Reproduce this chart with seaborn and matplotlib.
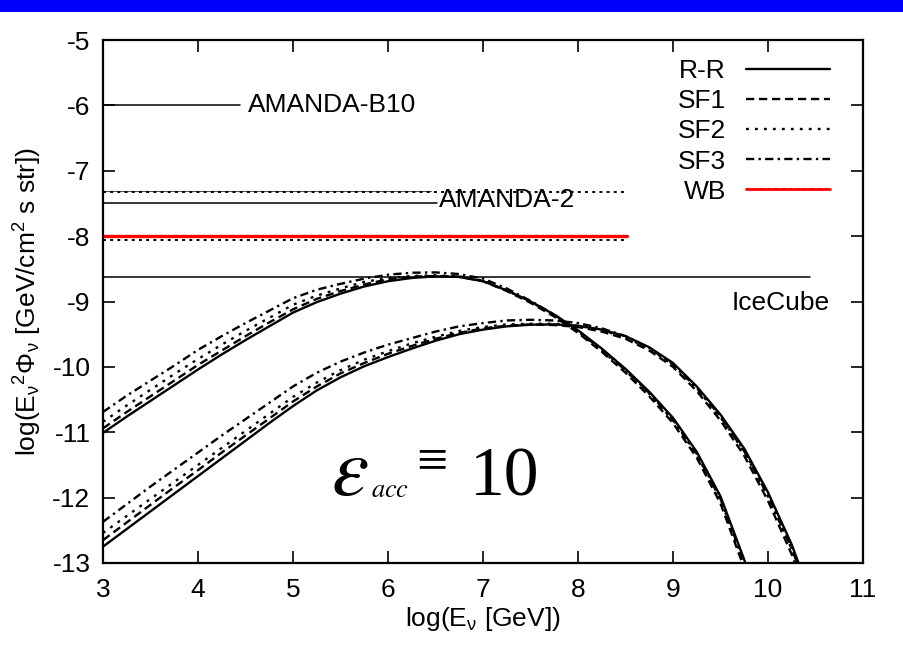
import matplotlib
matplotlib.use("Agg")
import matplotlib.pyplot as plt
import seaborn as sns
import pandas as pd
from matplotlib.lines import Line2D
from matplotlib.patches import Rectangle

# ---------------- data ----------------
x_upper = [3.0, 3.25, 3.5, 3.75, 4.0, 4.25, 4.5, 4.75, 5.0, 5.25, 5.5, 5.75, 6.0, 6.25, 6.5, 6.75,
           7.0, 7.25, 7.5, 7.75, 8.0, 8.25, 8.5, 8.75, 9.0, 9.25, 9.5, 9.75, 9.9]
upper_rr = [-11.01, -10.76, -10.52, -10.28, -10.04, -9.81, -9.59, -9.38, -9.17, -9.01, -8.88, -8.77,
            -8.69, -8.64, -8.615, -8.625, -8.69, -8.83, -9.00, -9.20, -9.44, -9.72, -10.03, -10.38,
            -10.78, -11.30, -11.98, -12.95, -13.60]
upper_sf1 = [-10.94, -10.69, -10.45, -10.21, -9.97, -9.75, -9.53, -9.32, -9.12, -8.96, -8.84, -8.74,
             -8.66, -8.62, -8.61, -8.62, -8.69, -8.84, -9.02, -9.23, -9.48, -9.77, -10.09, -10.45,
             -10.86, -11.39, -12.09, -13.08, -13.75]
upper_sf2 = [-10.84, -10.59, -10.35, -10.11, -9.88, -9.66, -9.45, -9.25, -9.05, -8.91, -8.80, -8.70,
             -8.64, -8.61, -8.60, -8.615, -8.68, -8.83, -9.00, -9.21, -9.46, -9.75, -10.06, -10.41,
             -10.82, -11.34, -12.03, -13.00, -13.66]
upper_sf3 = [-10.69, -10.44, -10.21, -9.98, -9.74, -9.53, -9.33, -9.14, -8.95, -8.82, -8.73, -8.65,
             -8.59, -8.56, -8.555, -8.58, -8.65, -8.80, -8.99, -9.20, -9.45, -9.74, -10.05, -10.40,
             -10.81, -11.33, -12.02, -12.99, -13.65]

x_lower = [3.0, 3.25, 3.5, 3.75, 4.0, 4.25, 4.5, 4.75, 5.0, 5.25, 5.5, 5.75, 6.0, 6.25, 6.5, 6.75,
           7.0, 7.25, 7.5, 7.75, 8.0, 8.25, 8.5, 8.75, 9.0, 9.25, 9.5, 9.75, 10.0, 10.25, 10.5]
lower_rr = [-12.75, -12.48, -12.21, -11.94, -11.67, -11.40, -11.13, -10.86, -10.60, -10.36, -10.16,
            -9.99, -9.85, -9.72, -9.60, -9.50, -9.43, -9.38, -9.355, -9.35, -9.37, -9.43, -9.53,
            -9.70, -9.94, -10.30, -10.73, -11.25, -11.92, -12.72, -13.70]
lower_sf1 = [-12.65, -12.38, -12.11, -11.84, -11.58, -11.31, -11.05, -10.79, -10.53, -10.30, -10.10,
             -9.94, -9.80, -9.68, -9.57, -9.48, -9.41, -9.37, -9.35, -9.36, -9.39, -9.46, -9.57,
             -9.75, -10.00, -10.37, -10.82, -11.36, -12.05, -12.87, -13.87]
lower_sf2 = [-12.54, -12.28, -12.02, -11.76, -11.50, -11.24, -10.98, -10.72, -10.46, -10.24, -10.05,
             -9.89, -9.76, -9.64, -9.54, -9.45, -9.39, -9.35, -9.34, -9.34, -9.37, -9.44, -9.55,
             -9.72, -9.97, -10.33, -10.77, -11.30, -11.98, -12.79, -13.78]
lower_sf3 = [-12.37, -12.10, -11.83, -11.57, -11.31, -11.05, -10.80, -10.55, -10.30, -10.09, -9.92,
             -9.78, -9.66, -9.56, -9.46, -9.38, -9.33, -9.29, -9.28, -9.29, -9.33, -9.41, -9.53,
             -9.71, -9.96, -10.32, -10.76, -11.29, -11.97, -12.78, -13.77]

# horizontal bounds
bound_names = ["AMANDA-B10", "AMANDA-2", "WB-evol-solid", "WB-evol", "WB-red", "WB", "IceCube"]
bound_y = [-6.0, -7.5, -7.31, -7.32, -8.0, -8.06, -8.62]
bound_xmin = [3.0, 3.0, 3.0, 3.0, 3.0, 3.0, 3.0]
bound_xmax = [4.44, 6.52, 6.45, 8.52, 8.52, 8.52, 10.44]

legend_labels = ["R-R", "SF1", "SF2", "SF3", "WB"]
x_ticks = [3, 4, 5, 6, 7, 8, 9, 10, 11]
y_ticks = [-13, -12, -11, -10, -9, -8, -7, -6, -5]

# ---------------- style ----------------
sns.set_style("ticks")
plt.rcParams["font.family"] = ["Liberation Sans", "DejaVu Sans"]
plt.rcParams["mathtext.fontset"] = "custom"
plt.rcParams["mathtext.rm"] = "Liberation Sans"
plt.rcParams["mathtext.it"] = "Liberation Sans"
plt.rcParams["mathtext.bf"] = "Liberation Sans:bold"
for k in ["text.color", "axes.labelcolor", "xtick.color", "ytick.color", "axes.edgecolor"]:
    plt.rcParams[k] = "black"

FS = 19
styles = {
    "R-R": dict(linestyle="-"),
    "SF1": dict(linestyle=(0, (3.5, 2.0))),
    "SF2": dict(linestyle=(0, (1.2, 2.6))),
    "SF3": dict(linestyle=(0, (3.5, 1.8, 1.0, 1.8))),
}

fig = plt.figure(figsize=(9.04, 6.46), dpi=100)
ax = fig.add_axes([103 / 904, 1 - 563 / 646, 760 / 904, 523 / 646])

# blue banner at top
fig.patches.append(Rectangle((0, 1 - 12 / 646), 1, 12 / 646, transform=fig.transFigure,
                             facecolor="#0000FF", edgecolor="none", zorder=0))

LW = 1.7
series = [
    (x_upper, upper_rr, "R-R"), (x_upper, upper_sf1, "SF1"),
    (x_upper, upper_sf2, "SF2"), (x_upper, upper_sf3, "SF3"),
    (x_lower, lower_rr, "R-R"), (x_lower, lower_sf1, "SF1"),
    (x_lower, lower_sf2, "SF2"), (x_lower, lower_sf3, "SF3"),
]
for xs, ys, name in series:
    df = pd.DataFrame({"x": xs, "y": ys})
    sns.lineplot(data=df, x="x", y="y", ax=ax, color="black", lw=LW,
                 sort=False, estimator=None, legend=False, **styles[name])

# horizontal bounds
bstyle = {
    "AMANDA-B10": dict(color="black", lw=1.1, linestyle="-"),
    "AMANDA-2": dict(color="black", lw=1.1, linestyle="-"),
    "WB-evol-solid": dict(color="#555555", lw=0.8, linestyle="-"),
    "WB-evol": dict(color="black", lw=1.4, linestyle=(0, (1.5, 2.2))),
    "WB-red": dict(color="#FF0000", lw=2.4, linestyle="-"),
    "WB": dict(color="black", lw=1.4, linestyle=(0, (1.5, 2.2))),
    "IceCube": dict(color="black", lw=1.1, linestyle="-"),
}
for n, yv, x0, x1 in zip(bound_names, bound_y, bound_xmin, bound_xmax):
    df = pd.DataFrame({"x": [x0, x1], "y": [yv, yv]})
    sns.lineplot(data=df, x="x", y="y", ax=ax, sort=False, estimator=None,
                 legend=False, **bstyle[n])

# bound labels
ax.text(4.53, -6.0, "AMANDA-B10", fontsize=FS, va="center", ha="left")
ax.text(6.54, -7.45, "AMANDA-2", fontsize=FS, va="center", ha="left")
ax.text(10.65, -9.02, "IceCube", fontsize=FS, va="center", ha="right")

# epsilon annotation (serif)
ax.text(5.40, -11.96, r"$\varepsilon$", fontsize=60, math_fontfamily="stix", va="baseline", ha="left")
ax.text(5.82, -11.99, r"$acc$", fontsize=19, math_fontfamily="stix", va="baseline", ha="left")
ax.text(6.30, -11.47, "\u2261", fontsize=40, family="Liberation Serif", va="center", ha="left")
ax.text(6.86, -11.96, "10", fontsize=50, family="Liberation Serif", va="baseline", ha="left")

# axes
ax.set_xlim(3, 11)
ax.set_ylim(-13, -5)
ax.set_xticks(x_ticks)
ax.set_yticks(y_ticks)
ax.set_xticklabels([str(t) for t in x_ticks])
ax.set_yticklabels([str(t) for t in y_ticks])
ax.tick_params(direction="in", length=8.5, width=1.2, top=True, right=True,
               labelsize=FS, color="black", labelcolor="black")
ax.tick_params(axis="x", pad=11)
ax.tick_params(axis="y", pad=9)
for s in ax.spines.values():
    s.set_linewidth(1.6)
    s.set_color("black")
    s.set_visible(True)

ax.set_xlabel(r"log(E$_{\nu}$ [GeV])", fontsize=FS, labelpad=2, color="black")
ax.set_ylabel(r"log(E$_{\nu}{}^{2}\Phi_{\nu}$ [GeV/cm$^{2}$ s str])", fontsize=FS, labelpad=6,
              color="black")

# legend
handles = [Line2D([], [], color="black", lw=LW, **styles[k]) for k in ["R-R", "SF1", "SF2", "SF3"]]
wb_h = (Line2D([], [], color="black", lw=1.4, linestyle=(0, (1.5, 2.2))),
        Line2D([], [], color="#FF0000", lw=2.0, linestyle="-"))
handles.append(wb_h)
leg = ax.legend(handles, legend_labels, loc="upper right", bbox_to_anchor=(0.957, 0.963),
                frameon=False, fontsize=FS, markerfirst=False, handlelength=3.2,
                handletextpad=0.75, labelspacing=0.23, borderaxespad=0, borderpad=0)
for t in leg.get_texts():
    t.set_color("black")

fig.savefig("out.png", dpi=100)
